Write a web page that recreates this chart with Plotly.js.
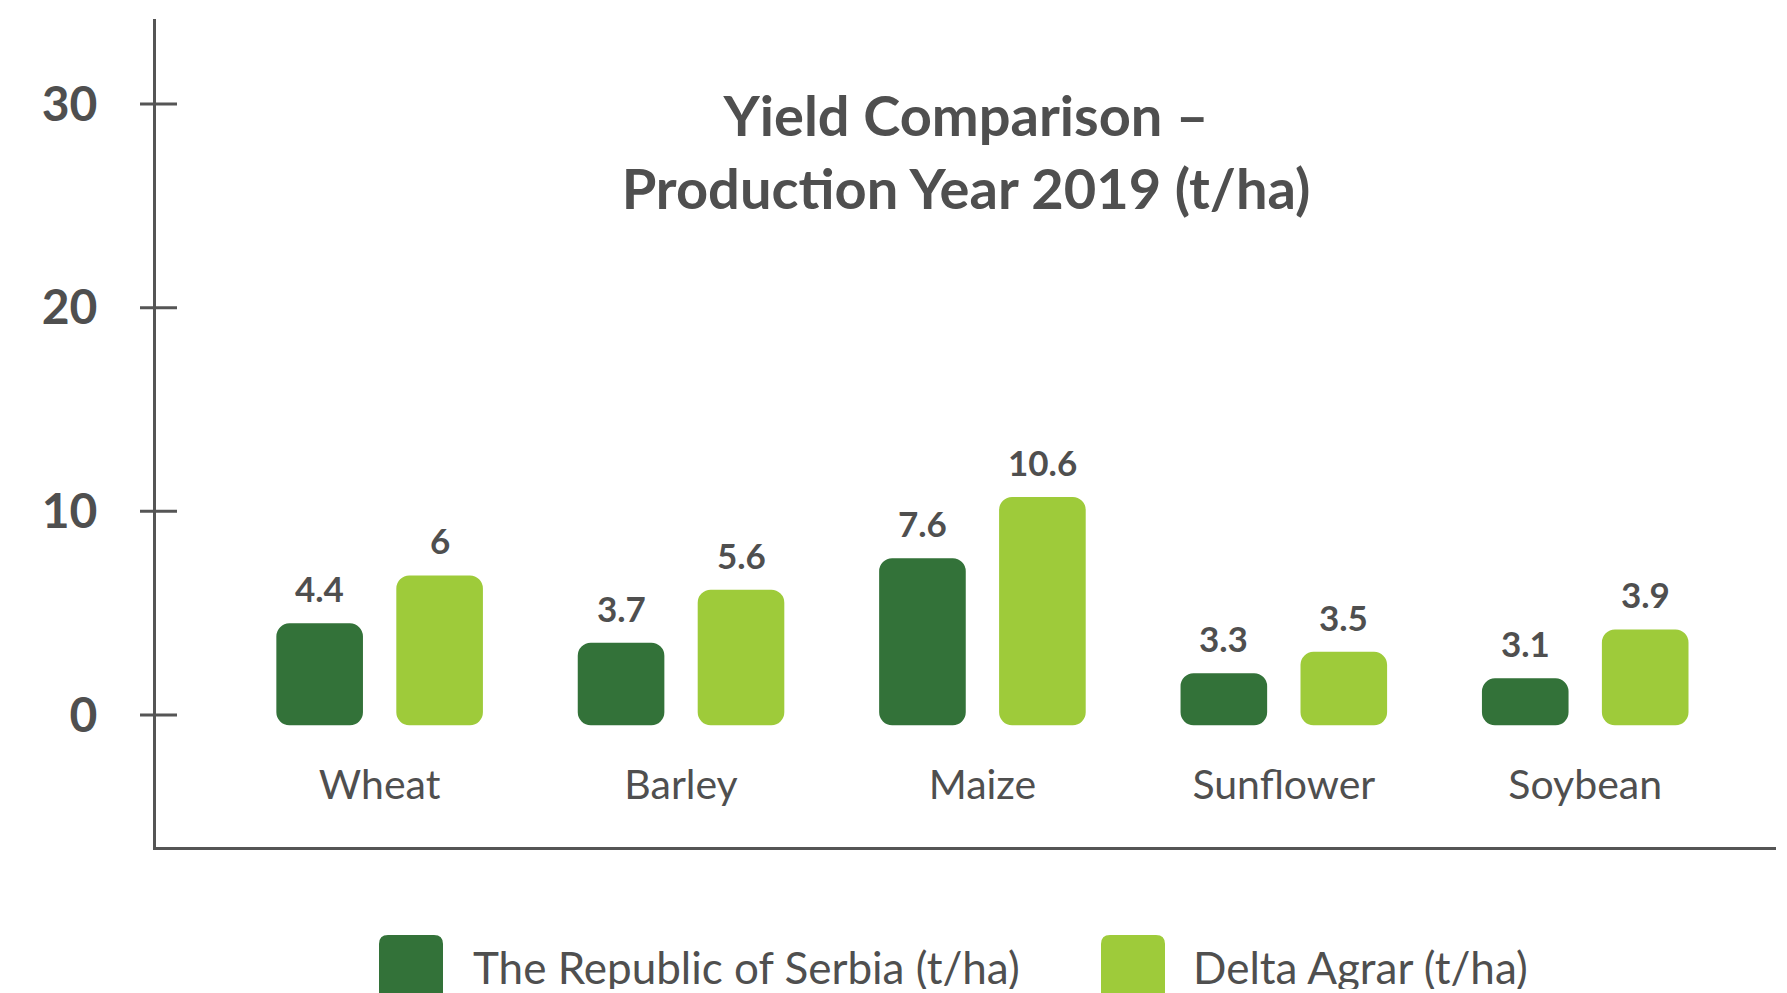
<!DOCTYPE html>
<html>
<head>
<meta charset="utf-8">
<script src="https://cdn.plot.ly/plotly-3.0.1.min.js"></script>
<style>
  html, body { margin: 0; padding: 0; background: #ffffff; }
  #chart { width: 1787px; height: 993px; }
</style>
</head>
<body>
<div id="chart"></div>
<script>
// ---------- data ----------
const categories = ['Wheat', 'Barley', 'Maize', 'Sunflower', 'Soybean'];
const seriesNames = ['The Republic of Serbia (t/ha)', 'Delta Agrar (t/ha)'];
// bar tops as drawn in the picture (t/ha scale of the axis)
const serbiaBarTop = [4.5, 3.55, 7.7, 2.05, 1.8];
const deltaBarTop = [6.85, 6.15, 10.7, 3.1, 4.2];
// value labels printed above the bars
const serbiaLabels = ['4.4', '3.7', '7.6', '3.3', '3.1'];
const deltaLabels = ['6', '5.6', '10.6', '3.5', '3.9'];
const yTickValues = [0, 10, 20, 30];
const yTickText = ['0', '10', '20', '30'];

// ---------- style ----------
const COLORS = ['#337239', '#9ecb3a'];
const TEXT = '#4f4f4f';
const AXIS = '#555555';
const FONT = 'Lato, "Open Sans", sans-serif';
const BAR_BASE = -0.5;
const W = 1787, H = 993;
const M = { l: 156, r: 11, t: 19, b: 146 };
const PW = W - M.l - M.r, PH = H - M.t - M.b;
const px2x = px => (px - M.l) / PW;
const py2y = py => (H - M.b - py) / PH;

const barTops = [serbiaBarTop, deltaBarTop];
const labels = [serbiaLabels, deltaLabels];
const LABEL_XSHIFT = [-60, 60];

const traces = barTops.map((tops, i) => ({
  type: 'bar',
  name: seriesNames[i],
  x: categories,
  y: tops.map(v => v - BAR_BASE),
  base: BAR_BASE,
  marker: { color: COLORS[i], line: { width: 0 } },
  showlegend: false,
  hoverinfo: 'skip'
}));

const annotations = [];
labels.forEach((arr, i) => {
  arr.forEach((t, j) => {
    annotations.push({
      x: categories[j], y: barTops[i][j], xref: 'x', yref: 'y',
      text: t, showarrow: false, xanchor: 'center', yanchor: 'bottom',
      xshift: LABEL_XSHIFT[i], yshift: 12,
      font: { family: FONT, size: 35, color: TEXT, weight: 'bold' }
    });
  });
});

// custom legend (large rounded swatches)
const legendItems = [
  { sx0: 379, sx1: 443, tx: 471 },
  { sx0: 1101, sx1: 1165, tx: 1191 }
];
const shapes = [];
legendItems.forEach((it, i) => {
  const yt = 935, yb = 1010, r = 9;
  const P = (x, y) => px2x(x) + ',' + py2y(y);
  shapes.push({
    type: 'path', xref: 'paper', yref: 'paper',
    path: 'M' + P(it.sx0, yb) + ' L' + P(it.sx0, yt + r) + ' Q' + P(it.sx0, yt) + ' ' + P(it.sx0 + r, yt) +
          ' L' + P(it.sx1 - r, yt) + ' Q' + P(it.sx1, yt) + ' ' + P(it.sx1, yt + r) + ' L' + P(it.sx1, yb) + ' Z',
    fillcolor: COLORS[i], line: { width: 0 }, layer: 'above'
  });
  annotations.push({
    x: px2x(it.tx), y: py2y(967), xref: 'paper', yref: 'paper',
    text: seriesNames[i], showarrow: false, xanchor: 'left', yanchor: 'middle',
    height: 44,
    font: { family: FONT, size: 44, color: TEXT }
  });
});

// crossing tick marks on the y axis
yTickValues.forEach(v => {
  shapes.push({
    type: 'line', xref: 'paper', yref: 'y', xsizemode: 'pixel', xanchor: 0,
    x0: -16, x1: 21, y0: v, y1: v,
    line: { color: AXIS, width: 3 }, layer: 'above'
  });
});

const layout = {
  width: W, height: H,
  margin: M,
  paper_bgcolor: '#ffffff', plot_bgcolor: '#ffffff',
  font: { family: FONT, color: TEXT },
  title: {
    text: 'Yield Comparison –<br>Production Year 2019 (t/ha)',
    x: 0.5, xref: 'paper', xanchor: 'center',
    y: 1 - 136 / H, yref: 'container', yanchor: 'top',
    font: { family: FONT, size: 56, color: TEXT, weight: 'bold' }
  },
  barmode: 'group',
  bargap: 0.204,
  bargroupgap: 0.278,
  xaxis: {
    type: 'category',
    range: [-0.742, 4.633],
    showline: true, linecolor: AXIS, linewidth: 3,
    ticks: '', showgrid: false, zeroline: false,
    ticklabelposition: 'inside',
    ticklabelstandoff: 45,
    tickfont: { family: FONT, size: 41, color: TEXT }
  },
  yaxis: {
    range: [-6.48, 34.17],
    showline: true, linecolor: AXIS, linewidth: 3,
    ticks: '', showgrid: false, zeroline: false,
    tickmode: 'array', tickvals: yTickValues, ticktext: yTickText,
    ticklabelstandoff: 46,
    tickfont: { family: FONT, size: 48, color: TEXT, weight: 'bold' }
  },
  annotations: annotations,
  shapes: shapes,
  showlegend: false
};

function roundedRect(x, y, w, h, r) {
  return 'M' + (x + r) + ',' + y +
    'H' + (x + w - r) + 'A' + r + ',' + r + ' 0 0 1 ' + (x + w) + ',' + (y + r) +
    'V' + (y + h - r) + 'A' + r + ',' + r + ' 0 0 1 ' + (x + w - r) + ',' + (y + h) +
    'H' + (x + r) + 'A' + r + ',' + r + ' 0 0 1 ' + x + ',' + (y + h - r) +
    'V' + (y + r) + 'A' + r + ',' + r + ' 0 0 1 ' + (x + r) + ',' + y + 'Z';
}

Plotly.newPlot('chart', traces, layout, { staticPlot: true, displayModeBar: false }).then(gd => {
  gd.querySelectorAll('.barlayer .point path').forEach(p => {
    const b = p.getBBox();
    const r = Math.min(13, b.width / 2, b.height / 2);
    p.setAttribute('d', roundedRect(b.x, b.y, b.width, b.height, r));
  });
});
</script>
</body>
</html>
